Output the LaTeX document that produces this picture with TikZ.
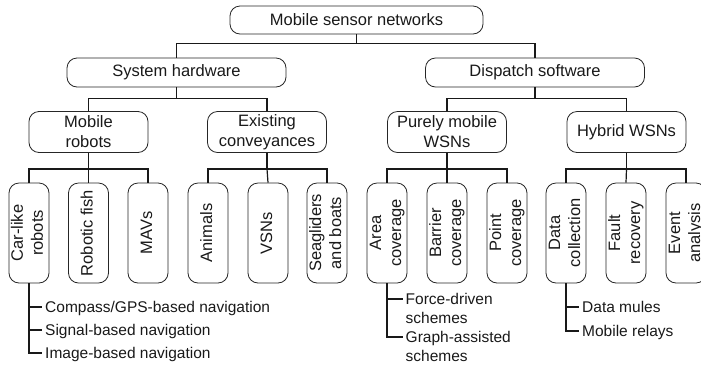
\documentclass[tikz,border=0pt]{standalone}
\usepackage{fontspec}
\setmainfont{Liberation Sans}
\usetikzlibrary{calc}

% upright text turned to read bottom-to-top, lines stacked left to right
\newcommand{\vlabel}[1]{\rotatebox{90}{\begin{tabular}{@{}c@{}}#1\end{tabular}}}

\begin{document}
\begin{tikzpicture}[x=1pt,y=-1pt,
  nodefont/.style={font=\fontsize{16.5}{20}\selectfont},
  subfont/.style={font=\fontsize{15.5}{19}\selectfont},
  box/.style={draw=black!85, line width=0.8pt, rounded corners=10pt,
              align=center, inner sep=0pt, text=black!90, nodefont},
  rootbox/.style={box, minimum width=253pt, minimum height=28pt},
  groupbox/.style={box, minimum width=219pt, minimum height=29pt},
  classbox/.style={box, minimum width=119pt, minimum height=41pt},
  leafbox/.style={box, minimum width=40pt, minimum height=100pt},
  item/.style={anchor=north west, align=left, inner sep=0pt, text=black!90, subfont},
  conn/.style={draw=black!90, line width=1.2pt},
  tick/.style={draw=black!90, line width=1.1pt}
]
\clip (0,0) rectangle (701,365);

% ---- tree nodes ----
\node[rootbox] (root) at (356.5,20) {Mobile sensor networks};

\node[groupbox] (hw) at (176.5,72.5) {System hardware};
\node[groupbox] (sw) at (535,72.5) {Dispatch software};

\node[classbox] (mr) at (88.5,132) {Mobile\\robots};
\node[classbox] (ec) at (267,132) {Existing\\conveyances};
\node[classbox] (pm) at (447,132) {Purely mobile\\WSNs};
\node[classbox] (hy) at (626.5,132) {Hybrid WSNs};

\node[leafbox] (car)  at (29,233)  {\vlabel{Car-like\\robots}};
\node[leafbox] (fish) at (88.5,233) {\vlabel{Robotic fish}};
\node[leafbox] (mav)  at (148,233) {\vlabel{MAVs}};
\node[leafbox] (ani)  at (208,233) {\vlabel{Animals}};
\node[leafbox] (vsn)  at (268,233) {\vlabel{VSNs}};
\node[leafbox] (sea)  at (327,233) {\vlabel{Seagliders\\and boats}};
\node[leafbox] (area) at (387,233) {\vlabel{Area\\coverage}};
\node[leafbox] (bar)  at (447,233) {\vlabel{Barrier\\coverage}};
\node[leafbox] (pnt)  at (507,233) {\vlabel{Point\\coverage}};
\node[leafbox] (dat)  at (566,233) {\vlabel{Data\\collection}};
\node[leafbox] (flt)  at (626,233) {\vlabel{Fault\\recovery}};
\node[leafbox] (evt)  at (686,233) {\vlabel{Event\\analysis}};

% ---- tree connectors ----
\draw[conn] (root.south) -- ++(0,9) coordinate (b0);
\draw[conn] (b0) -| (hw.north);
\draw[conn] (b0) -| (sw.north);

\draw[conn] (hw.south) -- ++(0,11) coordinate (b1);
\draw[conn] (b1) -| (mr.north);
\draw[conn] (b1) -| (ec.north);
\draw[conn] (sw.south) -- ++(0,11) coordinate (b2);
\draw[conn] (b2) -| (pm.north);
\draw[conn] (b2) -| (hy.north);

\foreach \p/\a/\b/\c in {mr/car/fish/mav, ec/ani/vsn/sea, pm/area/bar/pnt, hy/dat/flt/evt}{
  \draw[conn] (\p.south) -- ++(0,16) coordinate (bus-\p);
  \draw[conn] (bus-\p) -| (\a.north);
  \draw[conn] (bus-\p) -- (\b.north);
  \draw[conn] (bus-\p) -| (\c.north);
}

% ---- sub-item lists ----
\node[item] (c1) at (45,301) {Compass/GPS-based navigation};
\node[item] (c2) at (45,324) {Signal-based navigation};
\node[item] (c3) at (45,347) {Image-based navigation};

\node[item] (a1) at (405.5,293) {Force-driven\\schemes};
\node[item] (a2) at (405.5,331) {Graph-assisted\\schemes};

\node[item] (d1) at (582,301) {Data mules};
\node[item] (d2) at (582,325) {Mobile relays};

\foreach \n in {c1,c2,c3,a1,a2,d1,d2}{
  \coordinate (t-\n) at ($(\n.north west)+(-3,6)$);
}

\draw[tick] (car.south) |- (t-c3);
\draw[tick] (t-c1 -| car.south) -- (t-c1);
\draw[tick] (t-c2 -| car.south) -- (t-c2);

\draw[tick] (area.south) |- (t-a2);
\draw[tick] (t-a1 -| area.south) -- (t-a1);

\draw[tick] (dat.south) |- (t-d2);
\draw[tick] (t-d1 -| dat.south) -- (t-d1);
\end{tikzpicture}
\end{document}
